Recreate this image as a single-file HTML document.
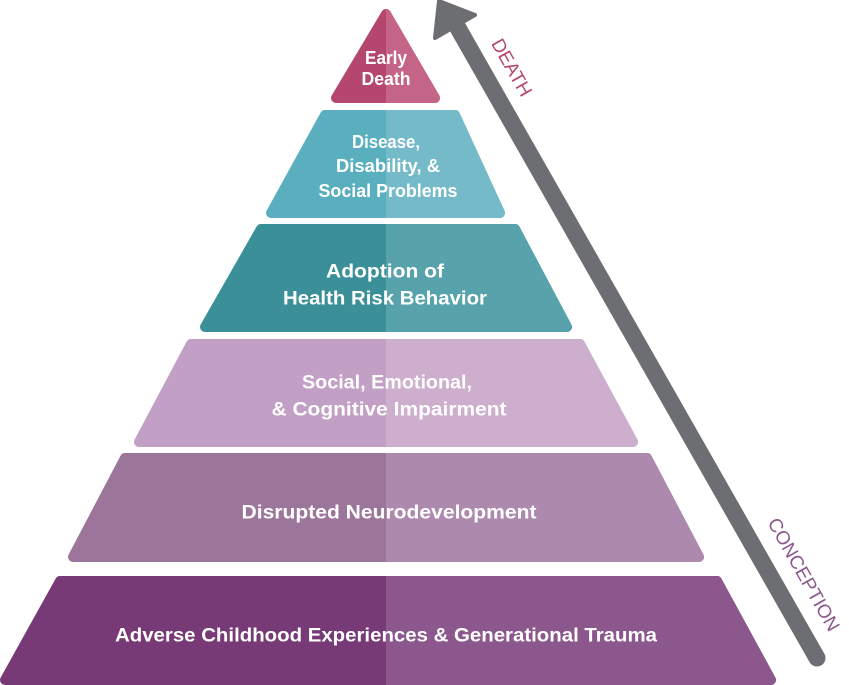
<!DOCTYPE html>
<html><head><meta charset="utf-8"><style>
html,body{margin:0;padding:0;background:#fff;width:849px;height:685px;overflow:hidden}
svg{display:block}
text{font-family:"Liberation Sans",sans-serif;font-weight:bold;fill:#fff;font-size:17px}
</style></head><body>
<svg width="849" height="685" viewBox="0 0 849 685" xmlns="http://www.w3.org/2000/svg">
<defs>
<clipPath id="r"><rect x="386" y="0" width="463" height="685"/></clipPath>
</defs>
<g stroke-linejoin="round" stroke-width="10">
<path d="M386,14 L435,98 L336,98 Z" fill="#b5466e" stroke="#b5466e"/>
<path d="M386,14 L435,98 L336,98 Z" fill="#c46486" stroke="#c46486" clip-path="url(#r)"/>
<path d="M325,115 L455,115 L500,213 L271,213 Z" fill="#5aafbf" stroke="#5aafbf"/>
<path d="M325,115 L455,115 L500,213 L271,213 Z" fill="#74bac8" stroke="#74bac8" clip-path="url(#r)"/>
<path d="M261,229 L515,229 L567,327 L205,327 Z" fill="#3a8f98" stroke="#3a8f98"/>
<path d="M261,229 L515,229 L567,327 L205,327 Z" fill="#58a3ab" stroke="#58a3ab" clip-path="url(#r)"/>
<path d="M191,344 L580,344 L633,442 L139,442 Z" fill="#c29fc4" stroke="#c29fc4"/>
<path d="M191,344 L580,344 L633,442 L139,442 Z" fill="#cdaecd" stroke="#cdaecd" clip-path="url(#r)"/>
<path d="M125,458 L647,458 L699,557 L73,557 Z" fill="#9c759b" stroke="#9c759b"/>
<path d="M125,458 L647,458 L699,557 L73,557 Z" fill="#ad8aad" stroke="#ad8aad" clip-path="url(#r)"/>
<path d="M60,581 L717,581 L771,680 L5,680 Z" fill="#773a77" stroke="#773a77"/>
<path d="M60,581 L717,581 L771,680 L5,680 Z" fill="#8c578c" stroke="#8c578c" clip-path="url(#r)"/>
</g>
<line x1="817" y1="658" x2="458" y2="28" stroke="#6d6e71" stroke-width="17" stroke-linecap="round"/>
<path d="M439,1 L475,15 L435,38 Z" fill="#6d6e71" stroke="#6d6e71" stroke-width="4" stroke-linejoin="round"/>
<text x="511" y="68" transform="rotate(60.6 511 68)" text-anchor="middle" dominant-baseline="central" style="fill:#b5466e;font-weight:normal;font-size:19px">DEATH</text>
<text x="803" y="575" transform="rotate(60.6 803 575)" text-anchor="middle" dominant-baseline="central" style="fill:#8c578c;font-weight:normal;font-size:19px">CONCEPTION</text>
<g text-anchor="middle" dominant-baseline="central">
<text x="386" y="58" textLength="42" lengthAdjust="spacingAndGlyphs" style="font-size:18px">Early</text>
<text x="386" y="79" textLength="49" lengthAdjust="spacingAndGlyphs" style="font-size:18px">Death</text>
<text x="386" y="142" textLength="68" lengthAdjust="spacingAndGlyphs" style="font-size:18px">Disease,</text>
<text x="388" y="166" textLength="104" lengthAdjust="spacingAndGlyphs" style="font-size:18px">Disability, &amp;</text>
<text x="388" y="191" textLength="139" lengthAdjust="spacingAndGlyphs" style="font-size:18px">Social Problems</text>
<text x="385" y="272" textLength="118" lengthAdjust="spacingAndGlyphs" style="font-size:19px">Adoption of</text>
<text x="385" y="299" textLength="204" lengthAdjust="spacingAndGlyphs" style="font-size:19px">Health Risk Behavior</text>
<text x="387" y="383" textLength="170" lengthAdjust="spacingAndGlyphs" style="font-size:19px">Social, Emotional,</text>
<text x="389" y="410" textLength="235" lengthAdjust="spacingAndGlyphs" style="font-size:19px">&amp; Cognitive Impairment</text>
<text x="389" y="513" textLength="295" lengthAdjust="spacingAndGlyphs" style="font-size:19px">Disrupted Neurodevelopment</text>
<text x="386" y="636" textLength="542" lengthAdjust="spacingAndGlyphs" style="font-size:19px">Adverse Childhood Experiences &amp; Generational Trauma</text>
</g>
</svg>
</body></html>
